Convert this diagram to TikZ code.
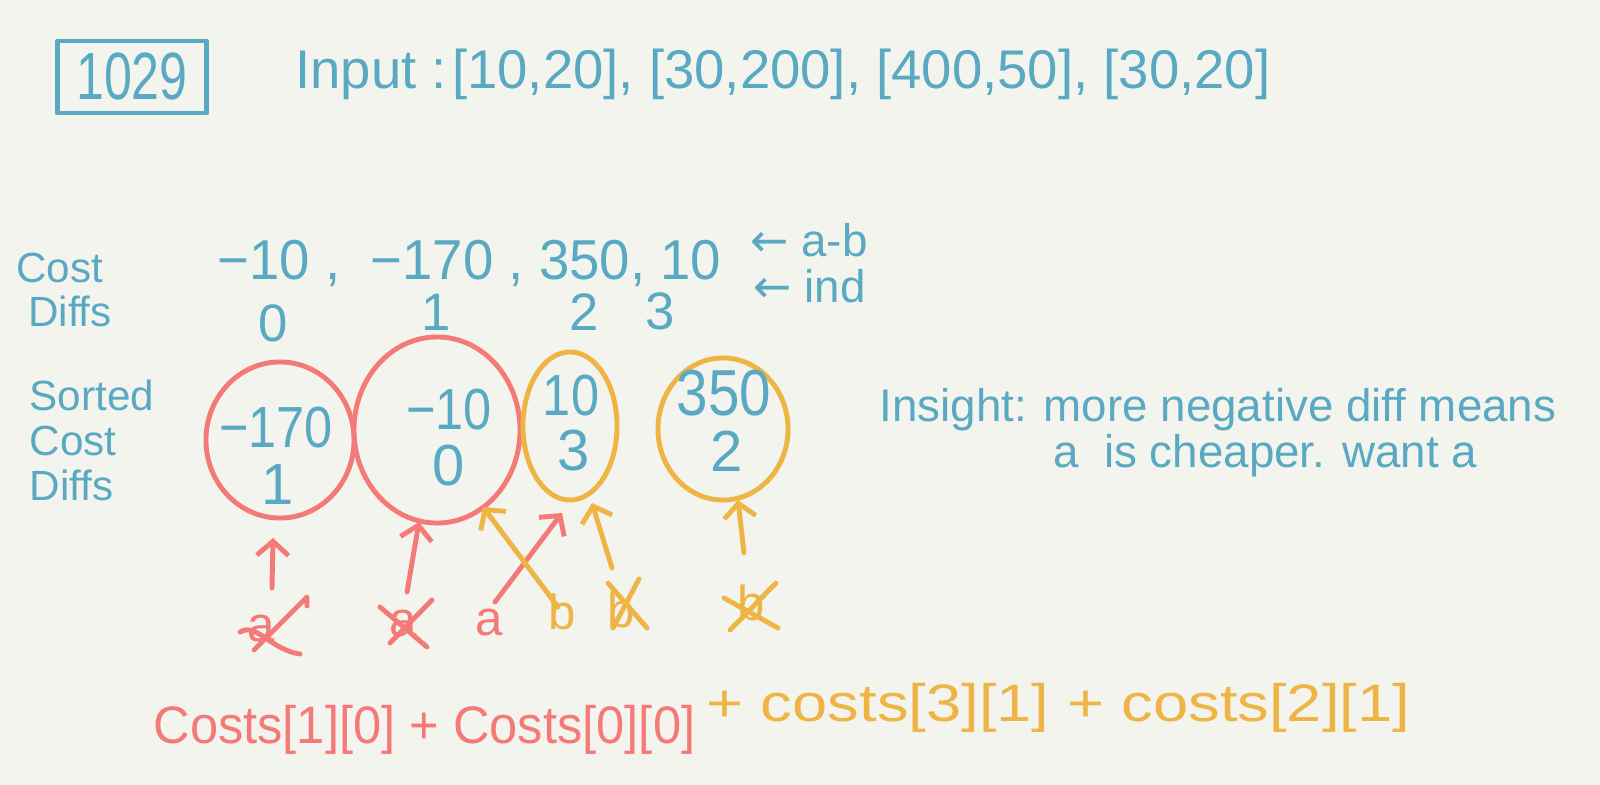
\documentclass[tikz,border=0pt]{standalone}
\usepackage{fontspec}
\setmainfont{Liberation Sans}
\newfontfamily\dv{DejaVu Sans}
\usetikzlibrary{arrows.meta,shapes.geometric}
\definecolor{bg}{HTML}{F4F4EF}
\definecolor{hblue}{HTML}{5AA9C3}
\definecolor{hred}{HTML}{F47A78}
\definecolor{horange}{HTML}{EEB545}
\newcommand\sx[2]{\scalebox{#1}[1]{#2}}
\newcommand\fs[2]{\fontsize{#1}{#2}\selectfont}
\begin{document}
\begin{tikzpicture}[x=0.01cm, y=-0.01cm, line width=1.4pt, line cap=round, line join=round,
  txt/.style={inner sep=0pt, text=hblue},
  ring/.style={ellipse, draw, inner sep=0pt},
  harrow/.style={-{Straight Barb[length=4pt,width=9pt]}},
  letter/.style={inner sep=0pt, font=\fs{14}{16}}]
\fill[bg] (0,0) rectangle (1600,785);
\useasboundingbox (0,0) rectangle (1600,785);

% title box and input
\node[draw=hblue, txt, minimum width=1.49cm, minimum height=0.72cm, font=\fs{19}{20}] (box) at (132,77) {\sx{0.75}{1029}};
\node[txt, anchor=west, font=\fs{15.5}{18}] (input) at (293,74) {Input :\hspace{-0.15cm} [10,20], [30,200], [400,50], [30,20]};

% cost diffs
\node[txt, align=left, font=\fs{12}{12.5}] (cdlab) at (64,290) {Cost\\\hspace*{0.12cm}Diffs};
\node[txt, anchor=west, font=\fs{16}{18}] (diffs) at (215,263) {\sx{0.97}{−10 ,\ \ −170 ,\ 350, 10}};
\node[txt, anchor=west, font=\fs{13}{15}] (ab) at (748,240) {{\dv ←} a-b};
\node[txt, anchor=west, font=\fs{13}{15}] (ind) at (751,286) {{\dv ←} ind};
\node[txt, font=\fs{15}{17}] (i0) at (273,323) {0};
\node[txt, font=\fs{15}{17}] (i1) at (436,312) {1};
\node[txt, font=\fs{15}{17}] (i2) at (584,312) {2};
\node[txt, font=\fs{15}{17}] (i3) at (660,311) {3};

% sorted
\node[txt, align=left, font=\fs{12}{12.8}] (sclab) at (92,440) {Sorted\\Cost\\Diffs};

\node[ring, draw=hred, minimum width=1.48cm, minimum height=1.56cm] (c1) at (280,440) {};
\node[ring, draw=hred, minimum width=1.66cm, minimum height=1.86cm] (c2) at (437,430) {};
\node[ring, draw=horange, minimum width=0.94cm, minimum height=1.48cm] (c3) at (570,426) {};
\node[ring, draw=horange, minimum width=1.30cm, minimum height=1.42cm] (c4) at (723,429) {};

\node[txt, font=\fs{16.5}{19}] (v1) at (276,428) {\sx{0.87}{−170}};
\node[txt, font=\fs{16.5}{19}] (j1) at (278,485) {1};
\node[txt, font=\fs{16.5}{19}] (v2) at (449,410) {\sx{0.87}{−10}};
\node[txt, font=\fs{16.5}{19}] (j2) at (449,466) {0};
\node[txt, font=\fs{16.5}{19}] (v3) at (571,396) {\sx{0.87}{10}};
\node[txt, font=\fs{16.5}{19}] (j3) at (574,451) {3};
\node[txt, font=\fs{18.5}{20}] (v4) at (724,393) {\sx{0.87}{350}};
\node[txt, font=\fs{16.5}{19}] (j4) at (727,451) {2};

% insight
\node[txt, anchor=west, font=\fs{13}{15}] (ins1) at (877,410) {Insight: more negative diff means};
\node[txt, anchor=west, font=\fs{13}{15}] (ins2) at (1051,456) {a\ \ is cheaper. want a};

% bottom letters
\node[letter, text=hred] (x1) at (261,628) {a};
\node[letter, text=hred] (x2) at (403,623) {a};
\node[letter, text=hred] (la) at (489,622) {a};
\node[letter, text=horange] (lb) at (562,612) {b};
\node[letter, text=horange] (x3) at (621,610) {b};
\node[letter, text=horange] (x4) at (751,603) {b};

\draw[hred] ([shift={(-7,22)}]x1.center) -- ([shift={(46,-31)}]x1.center) -- ([shift={(46,-22)}]x1.center);
\draw[hred] ([shift={(-21,4)}]x1.center) .. controls ([shift={(-5,-6)}]x1.center) and ([shift={(10,22)}]x1.center) .. ([shift={(39,26)}]x1.center);
\draw[hred] ([shift={(29,-23)}]x2.center) -- ([shift={(-13,20)}]x2.center);
\draw[hred] ([shift={(-23,-16)}]x2.center) -- ([shift={(24,24)}]x2.center);
\draw[horange] ([shift={(18,-31)}]x3.center) -- ([shift={(-8,18)}]x3.center);
\draw[horange] ([shift={(-13,-27)}]x3.center) -- ([shift={(26,18)}]x3.center);
\draw[horange] ([shift={(25,-20)}]x4.center) -- ([shift={(-21,27)}]x4.center);
\draw[horange] ([shift={(-27,-5)}]x4.center) -- ([shift={(27,25)}]x4.center);

% arrows
\coordinate (t1) at (272,588); \coordinate (h1) at (273,538);
\coordinate (t2) at (407,592); \coordinate (h2) at (419,522);
\coordinate (t3) at (495,602); \coordinate (h3) at (562,513);
\coordinate (t4) at (558,607); \coordinate (h4) at (483,507);
\coordinate (t5) at (612,568); \coordinate (h5) at (592,503);
\coordinate (t6) at (744,553); \coordinate (h6) at (738,500);
\draw[hred, harrow] (t1) -- (h1);
\draw[hred, harrow] (t2) -- (h2);
\draw[hred, harrow] (t3) -- (h3);
\draw[horange, harrow] (t4) -- (h4);
\draw[horange, harrow] (t5) -- (h5);
\draw[horange, harrow] (t6) -- (h6);

% formula
\node[inner sep=0pt, anchor=west, text=hred, font=\fs{15}{18}] (fr) at (151,730) {\sx{0.96}{Costs[1][0] + Costs[0][0]}};
\node[inner sep=0pt, anchor=west, text=horange, font=\fs{15}{18}] (fo) at (704,708) {\sx{1.2}{+ costs[3][1] + costs[2][1]}};
\end{tikzpicture}
\end{document}
